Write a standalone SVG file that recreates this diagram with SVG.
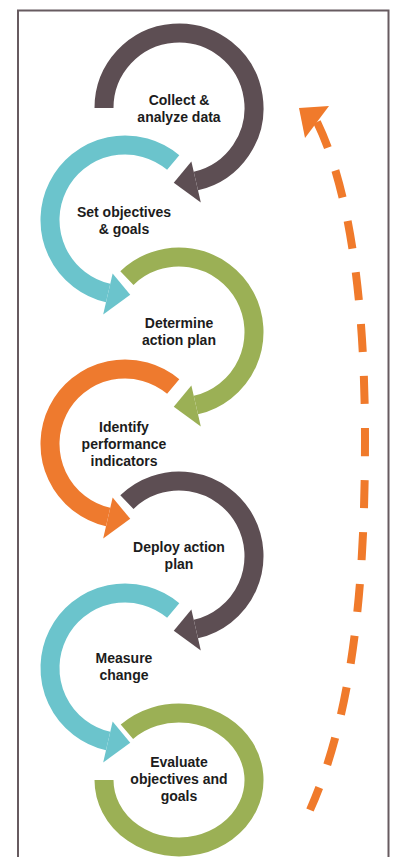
<svg xmlns="http://www.w3.org/2000/svg" width="393" height="857" viewBox="0 0 393 857">
  <style>
    .frame { fill: none; stroke: #675b60; stroke-width: 2; }
    .arc { fill: none; stroke-width: 19; stroke-linecap: butt; }
    .brown { stroke: #5d4e53; }
    .cyan { stroke: #6bc4cc; }
    .green { stroke: #9bb055; }
    .orange { stroke: #ee7a2e; }
    .head-brown { fill: #5d4e53; }
    .head-cyan { fill: #6bc4cc; }
    .head-green { fill: #9bb055; }
    .head-orange { fill: #ee7a2e; }
    .label { font-family: "Liberation Sans", Arial, sans-serif; font-size: 14px; font-weight: bold; fill: #1c1c1c; text-anchor: middle; }
    .feedback { fill: none; stroke: #f07a2b; stroke-width: 8; stroke-dasharray: 28 24; }
    .feedback-head { fill: #f07a2b; }
  </style>

  <rect class="frame" x="18" y="10.5" width="370.5" height="870"/>

  <!-- step 1: circular arrow, clockwise from the left side -->
  <g id="step-collect">
    <path class="arc brown" d="M 104 108 A 75 75 0 1 1 195.87 181.08"/>
    <polygon class="head-brown" points="191.37,161.59 200.82,202.51 173.77,182.82"/>
    <text class="label" x="179" y="105">Collect &amp;</text>
    <text class="label" x="179" y="122">analyze data</text>
  </g>

  <!-- step 2: counter-clockwise -->
  <g id="step-objectives">
    <path class="arc cyan" d="M 173.21 162.55 A 75 75 0 1 0 108.13 293.08"/>
    <polygon class="head-cyan" points="112.63,273.59 103.18,314.51 130.23,294.82"/>
    <text class="label" x="124" y="217">Set objectives</text>
    <text class="label" x="124" y="234">&amp; goals</text>
  </g>

  <g id="step-plan">
    <path class="arc green" d="M 126.9 278.05 A 75 75 0 1 1 195.87 405.08"/>
    <polygon class="head-green" points="191.37,385.59 200.82,426.51 173.77,406.82"/>
    <text class="label" x="179" y="328">Determine</text>
    <text class="label" x="179" y="345">action plan</text>
  </g>

  <g id="step-indicators">
    <path class="arc orange" d="M 173.21 386.55 A 75 75 0 1 0 108.13 517.08"/>
    <polygon class="head-orange" points="112.63,497.59 103.18,538.51 130.23,518.82"/>
    <text class="label" x="124" y="432">Identify</text>
    <text class="label" x="124" y="449">performance</text>
    <text class="label" x="124" y="466">indicators</text>
  </g>

  <g id="step-deploy">
    <path class="arc brown" d="M 126.9 502.05 A 75 75 0 1 1 195.87 629.08"/>
    <polygon class="head-brown" points="191.37,609.59 200.82,650.51 173.77,630.82"/>
    <text class="label" x="179" y="552">Deploy action</text>
    <text class="label" x="179" y="569">plan</text>
  </g>

  <g id="step-measure">
    <path class="arc cyan" d="M 173.21 610.55 A 75 75 0 1 0 108.13 741.08"/>
    <polygon class="head-cyan" points="112.63,721.59 103.18,762.51 130.23,742.82"/>
    <text class="label" x="124" y="663">Measure</text>
    <text class="label" x="124" y="680">change</text>
  </g>

  <!-- last step: open, slightly flattened ring without arrowhead -->
  <g id="step-evaluate">
    <path class="arc green" d="M 126.9 731.8 A 75 67 0 1 1 104 780"/>
    <text class="label" x="179" y="767">Evaluate</text>
    <text class="label" x="179" y="784">objectives and</text>
    <text class="label" x="179" y="801">goals</text>
  </g>

  <!-- feedback loop back to the first step -->
  <g id="connectors">
    <path class="feedback" d="M 317 122 C 345 180, 365 280, 365 440 C 365 600, 350 720, 310 810"/>
    <polygon class="feedback-head" points="299,108 329,106 305,138"/>
  </g>
</svg>
